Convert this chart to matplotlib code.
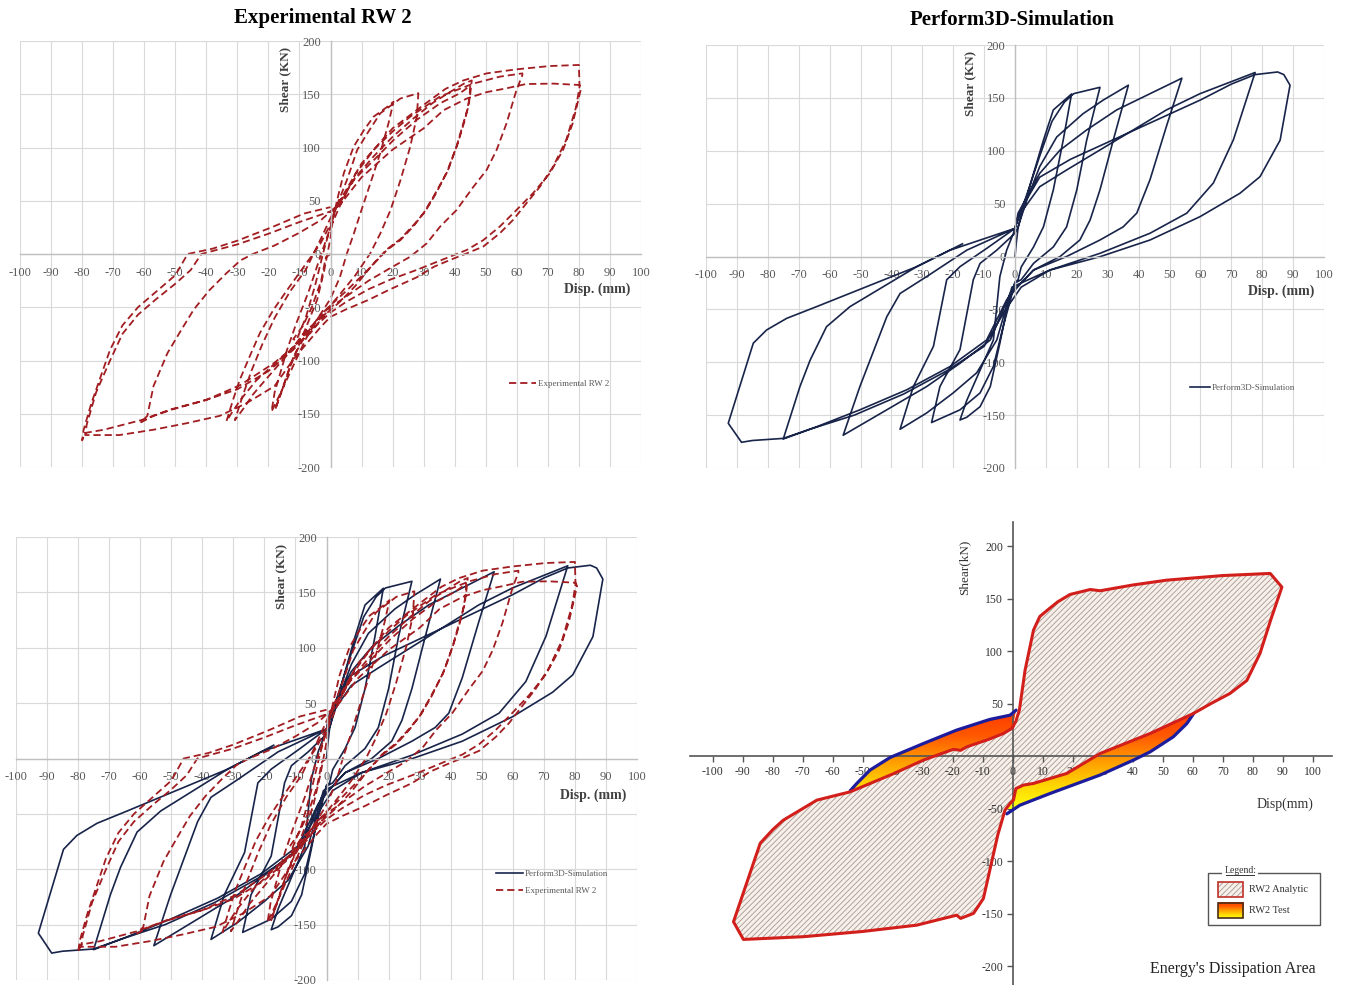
import numpy as np
import matplotlib
matplotlib.use('Agg')
import matplotlib.pyplot as plt
from matplotlib.patches import Polygon, Rectangle
from matplotlib.colors import LinearSegmentedColormap

# ---------------- data (disp mm, shear kN) ----------------
# Experimental RW 2, one list of (disp, shear) per cycle
exp_cycle1 = [(0, 0), (-1.5, -3), (-3, -25), (-6, -50), (-9, -68), (-12, -80), (-11, -81), (-8, -60),
              (-5, -30), (-2, 5), (0.5, 30), (2.5, 55), (4.3, 76), (7.5, 101), (10.7, 116), (13.9, 129),
              (18.2, 138), (20.3, 143), (18.7, 123), (16, 94.5), (12.8, 66), (9.6, 38), (7.5, 19),
              (5.3, 0.6), (3, -22), (0, -42), (-4, -60), (-8, -76), (-12, -97), (-15, -122),
              (-17.8, -146), (-15.1, -124), (-13, -106), (-10.8, -90), (-8.6, -74), (-6.5, -59),
              (-4.3, -43), (-2, -15), (0, 15), (1, 38)]
exp_cycle2 = [(1, 38), (5.3, 69.5), (8.6, 97.7), (11.8, 113), (16, 132), (22.5, 146), (28.3, 151),
              (27.8, 129), (25.7, 101), (22.5, 69), (19.3, 41), (16, 19), (12.8, 0.6), (8, -20),
              (3, -38), (-2, -55), (-6, -68), (-12, -88), (-18, -103), (-24, -119), (-29, -137),
              (-32, -150), (-33.5, -157), (-31.4, -137), (-29.2, -118), (-26, -96), (-22.7, -74),
              (-18.4, -52.5), (-14, -34), (-8.6, -12), (-3.2, 10), (0, 28), (2, 45)]
exp_cycle3 = [(2, 45), (7.5, 69.5), (13.9, 88), (20.3, 107), (27.8, 126), (35.3, 141.5), (41.7, 151),
              (45, 158), (44.6, 140), (42.8, 123), (40.6, 101), (37.4, 76), (33.2, 54), (29.9, 38),
              (26.7, 26), (22.5, 13), (18.2, 3.8), (13, -12), (8, -30), (3, -45), (-3, -60), (-8, -72),
              (-14, -95), (-20, -115), (-25, -132), (-28, -145), (-30.8, -156), (-28.5, -135),
              (-25.5, -110), (-22, -85), (-18, -60), (-13, -35), (-8, -15), (-3, 15), (1, 40), (3, 48)]
exp_cycle4 = [(3, 48), (8, 72), (14, 92), (20, 110), (27, 128), (33, 142), (39, 153), (43, 160),
              (45.5, 163), (45, 150), (43.5, 128), (41, 104), (38, 80), (34, 57), (30.5, 40), (27, 28),
              (22.5, 14), (18, 4), (12, -15), (5, -35), (0, -48), (-4, -60), (-8, -80), (-12, -105),
              (-16, -130), (-19, -148), (-18, -130), (-16, -110), (-14, -90), (-11, -65), (-7, -35),
              (-3, 0), (0, 25), (3, 45)]
exp_cycle5 = [(3, 45), (8, 75), (14, 98), (20, 115), (25.7, 129), (35.3, 148), (46, 160), (54.5, 166.5),
              (61.8, 169.6), (61.8, 168), (59.9, 154), (56.7, 122.7), (53.5, 97.7), (50.3, 79), (46, 63),
              (40.6, 41.3), (35.3, 25.7), (31, 10), (25.7, -2.5), (20, -12), (12.3, -25), (5, -40),
              (0, -50), (-6.4, -74), (-11.8, -87), (-18, -102), (-29, -123), (-40, -137), (-51, -146),
              (-57, -152), (-61, -158), (-59, -152), (-57, -124), (-52.5, -93), (-48, -71), (-44, -52),
              (-39, -34), (-33.5, -18), (-29, -6), (-25, 0), (-18, 8), (-10, 20), (-3, 32), (2, 45)]
exp_cycle6 = [(2, 45), (10, 85), (20, 118), (30, 140), (37, 155), (42.8, 163), (50.3, 169.6),
              (59.9, 173.4), (70.6, 176.5), (80, 177.5), (80.2, 157), (79.1, 138), (75.9, 107),
              (71.7, 82), (67.4, 63), (63.1, 47.6), (58.8, 32), (54.5, 19.4), (49.2, 7), (43.9, 0.6),
              (38.5, -5.6), (33.3, -12), (27.7, -22), (19.3, -33), (12.3, -43), (5, -52), (0, -59),
              (-3, -68), (-12, -99), (-18, -124), (-27, -140), (-35.7, -152), (-46.5, -159),
              (-57, -165), (-68, -170), (-79, -170), (-78.5, -160), (-75.5, -130), (-71, -100),
              (-67, -75), (-62, -57), (-56, -42), (-50, -28), (-45, -15), (-41.6, 0), (-30, 9),
              (-20, 19), (-10, 30), (0, 40), (3, 46)]
exp_cycle7 = [(3, 46), (10, 72), (20, 98), (30, 118), (36.4, 135), (43.9, 146), (50.3, 152),
              (56.7, 155.6), (63, 159.6), (71.7, 160), (80.2, 158.7), (80.7, 155.6), (78, 122.7),
              (74.9, 97.7), (70.6, 75.7), (65.2, 57), (59.9, 41.3), (54.5, 25.7), (49.2, 13),
              (43.9, 3.8), (38.5, -2.5), (27.7, -15), (19.3, -24), (12.3, -33), (5, -45), (0, -55),
              (-5, -68), (-12, -90), (-20, -110), (-30, -127), (-40, -137), (-51.5, -146), (-61, -156),
              (-73, -165), (-79, -168), (-80, -175), (-79.5, -165), (-77, -140), (-74, -115),
              (-71, -90), (-67, -67), (-62, -50), (-56, -35), (-50, -20), (-46, 0), (-38, 5),
              (-30, 12.5), (-19, 25), (-8.5, 38), (0, 44)]

# Perform3D-Simulation, one list per cycle
sim_cycle1 = [(0, 0), (0.5, 15), (1, 27), (1.6, 34.5), (6, 78.6), (9.2, 110), (12.4, 138.6),
              (18.3, 153.7), (15.6, 110), (12.4, 63), (9.2, 28), (6, 9), (2, -10), (1, -22), (0, -24),
              (-2.7, -50.6), (-4.9, -82), (-8, -123), (-11.3, -142), (-15.6, -152), (-17.8, -154.6),
              (-15.6, -136), (-7, -79), (-4.9, -19), (-2.7, 6), (-0.5, 22), (0, 27)]
sim_cycle2 = [(0, 27), (4, 60), (8, 95), (12, 128), (16, 146), (19, 154), (27.5, 160), (23.2, 110),
              (20, 63), (16.7, 28), (12.4, 9), (6, -6.5), (2, -22), (0, -25), (-3.8, -66), (-7, -104),
              (-11.3, -129), (-17.8, -145), (-27, -157), (-24.3, -123), (-17.8, -88), (-13.5, -22),
              (-11.3, -6.5), (-5.9, 6), (0, 22), (1, 28)]
sim_cycle3 = [(1, 28), (4, 55), (8, 85), (13.5, 113), (22, 135), (28.6, 148), (36.7, 162),
              (31.8, 110), (27.5, 63), (24.3, 34.5), (21, 15.6), (14.6, 0), (6, -12.8), (2, -25),
              (-1, -29), (-5.9, -79), (-12.4, -110), (-20, -129), (-28.6, -148), (-37.2, -163.4),
              (-32.9, -123), (-26.4, -85), (-23.2, -38), (-22.1, -22), (-17.8, -9.6), (-9, 8), (0, 26.6)]
sim_cycle4 = [(0, 26.6), (1, 41), (8, 78.6), (14.6, 100.7), (23.2, 119.7), (32.9, 138.6), (43.7, 154),
              (54, 168.6), (49, 123), (43.7, 72.7), (39.4, 41), (35, 28), (27.5, 15.6), (16.7, 0),
              (6, -12.8), (2, -25), (-1.6, -35), (-8, -79), (-17.8, -101), (-28.6, -123), (-41.5, -145),
              (-55.6, -169), (-50.2, -123), (-44.8, -82), (-41.5, -57), (-37.2, -35), (-28.6, -19),
              (-15.6, 6), (0, 26.6)]
sim_cycle5 = [(0, 26.6), (1, 37.7), (8, 66), (16.7, 81.8), (27.5, 100.7), (38.3, 119.7), (49, 138.6),
              (59.9, 154), (77.7, 174), (70.7, 110.5), (64.2, 69.5), (55.6, 41), (43.7, 22), (27.5, 3),
              (11.3, -12.8), (2, -25), (-2.7, -41), (-9.2, -79), (-21, -104), (-35, -126), (-50.2, -145),
              (-64.2, -161), (-75, -172.6), (-69.6, -123), (-66.3, -98), (-61, -66.4), (-53.4, -47.4),
              (-42.6, -28.5), (-31.8, -9.6), (-21, 6), (0, 26.6)]
sim_cycle6 = [(0, 26.6), (2, 45), (8, 75), (18, 92), (30, 108), (45, 128), (60, 148), (70, 163),
              (77.7, 172), (85, 174.5), (87, 172), (89, 162), (85.8, 110), (79.3, 75.5), (72.8, 59.8),
              (59.9, 37.7), (43.7, 15.6), (27.5, -0.2), (11.3, -12.8), (2, -29), (-3, -50), (-10, -85),
              (-22, -108), (-36, -130), (-52, -150), (-66, -163), (-75, -172), (-85, -174),
              (-88.5, -175.7), (-92.8, -157.7), (-84.7, -82), (-80.4, -69.5), (-73.9, -58.5),
              (-64.2, -47.4), (-53.4, -34.8), (-42.6, -22.2), (-31.8, -9.6), (-17, 12)]

# Energy dissipation panel
analytic_outline = [(0, 28), (1, 33), (2.2, 44), (4.1, 82), (6.9, 120), (9, 133), (12.2, 140.6),
                    (15, 147), (19.1, 154), (25.8, 158.7), (29.1, 157.5), (40, 163), (51.3, 167.6),
                    (70, 172), (85.8, 174), (89.7, 161), (86, 130), (82.4, 97.8), (78, 72),
                    (72.4, 59.7), (66, 50), (60.2, 40.6), (45.8, 21.6), (29.1, 2.5), (18, -16.5),
                    (6.9, -26), (3.5, -27.6), (1, -31), (0.2, -42), (-0.9, -45), (-2.6, -51.4),
                    (-5, -75), (-9.8, -135.6), (-13.1, -149.8), (-17.4, -154.6), (-18.7, -151.5),
                    (-23.1, -154.6), (-32, -161), (-50, -167), (-69.8, -172), (-89.8, -174.6),
                    (-93.1, -157.8), (-84.2, -83), (-80, -70), (-76.5, -61), (-65.3, -41.9),
                    (-54.2, -34), (-40, -17), (-29.8, -3.8), (-19.8, 6.5), (-17.4, 5.5),
                    (-15.3, 8.9), (-8, 16), (-3.1, 21.6), (-0.5, 26)]
test_upper_blue = [(-54.2, -33), (-52, -26), (-47.6, -13.3), (-40.9, -1.3), (-29.8, 12),
                   (-18.7, 24.8), (-7.6, 35), (-0.9, 39), (1.1, 43.8)]
test_upper_red = [(0.5, 35), (0, 28), (-0.5, 26), (-3.1, 21.6), (-8, 16), (-15.3, 8.9), (-17.4, 5.5),
                  (-19.8, 6.5), (-29.8, -3.8), (-40, -17), (-54.2, -34)]
test_lower_blue = [(-2, -55), (2.4, -46.7), (12.4, -35.6), (29.1, -18), (40.2, -3.8), (45.8, 4.1),
                   (53.5, 18.4), (58, 31), (60.3, 40.6)]
test_lower_red = [(45.8, 21.6), (29.1, 2.5), (18, -16.5), (6.9, -26), (3.5, -27.6), (1, -31),
                  (0.2, -42), (-0.9, -45), (-2, -52)]

x_ticks = list(range(-100, 101, 10))
y_ticks = list(range(-200, 201, 50))
energy_y_ticks = [-200, -150, -100, -50, 50, 100, 150, 200]

# ---------------- styling ----------------
plt.rcParams['font.family'] = ['Liberation Serif', 'DejaVu Serif']
plt.rcParams['axes.unicode_minus'] = False
plt.rcParams['hatch.linewidth'] = 0.6

W, H = 1349, 985
fig = plt.figure(figsize=(W / 100, H / 100), dpi=100)

RED = '#a11d21'
NAVY = '#18244a'
GRAY_TXT = '#595959'


def px_rect(x0, y0, x1, y1):
    return [x0 / W, 1 - y1 / H, (x1 - x0) / W, (y1 - y0) / H]


def xy(cycles):
    pts = [p for c in cycles for p in c]
    return [p[0] for p in pts], [p[1] for p in pts]


def excel_axes(rect):
    ax = fig.add_axes(rect)
    ax.set_xlim(-100, 100)
    ax.set_ylim(-200, 200)
    ax.set_xticks(x_ticks)
    ax.set_yticks(y_ticks)
    ax.grid(True, color='#d9d9d9', linewidth=0.8)
    ax.set_axisbelow(True)
    for s in ['top', 'right']:
        ax.spines[s].set_visible(False)
    for s in ['left', 'bottom']:
        ax.spines[s].set_position(('data', 0))
        ax.spines[s].set_color('#bfbfbf')
        ax.spines[s].set_linewidth(1.0)
    ax.tick_params(length=0, labelsize=9, colors=GRAY_TXT)
    ax.tick_params(axis='x', pad=9)
    ax.tick_params(axis='y', pad=7)
    ax.text(-14.6, 164, 'Shear (KN)', rotation=90, ha='center', va='center',
            fontsize=9.5, fontweight='bold', color='#404040')
    ax.text(86, -33, 'Disp. (mm)', ha='center', va='center',
            fontsize=10, fontweight='bold', color='#404040')
    return ax


exp_x, exp_y = xy([exp_cycle1, exp_cycle2, exp_cycle3, exp_cycle4, exp_cycle5, exp_cycle6, exp_cycle7])
sim_x, sim_y = xy([sim_cycle1, sim_cycle2, sim_cycle3, sim_cycle4, sim_cycle5, sim_cycle6])

dash = (0, (4, 2.2))

# top-left: experimental
ax1 = excel_axes(px_rect(20, 41, 641, 467))
ax1.plot(exp_x, exp_y, color=RED, lw=1.3, linestyle=dash, label='Experimental RW 2')
ax1.legend(loc='center left', bbox_to_anchor=(0.775, 0.195), frameon=False, fontsize=6.5,
           handlelength=3, handletextpad=0.2, labelcolor=GRAY_TXT)
fig.text(323 / W, 1 - 18 / H, 'Experimental RW 2', ha='center', va='center',
         fontsize=15, fontweight='bold')

# top-right: simulation
ax2 = excel_axes(px_rect(706, 45, 1324, 468))
ax2.plot(sim_x, sim_y, color=NAVY, lw=1.2, label='Perform3D-Simulation')
ax2.legend(loc='center left', bbox_to_anchor=(0.77, 0.19), frameon=False, fontsize=6.5,
           handlelength=2.2, handletextpad=0.2, labelcolor=GRAY_TXT)
fig.text(1012 / W, 1 - 20 / H, 'Perform3D-Simulation', ha='center', va='center',
         fontsize=15, fontweight='bold')

# bottom-left: both
ax3 = excel_axes(px_rect(16, 537, 637, 980))
ax3.plot(sim_x, sim_y, color=NAVY, lw=1.2, label='Perform3D-Simulation')
ax3.plot(exp_x, exp_y, color=RED, lw=1.3, linestyle=dash, label='Experimental RW 2')
ax3.legend(loc='center left', bbox_to_anchor=(0.76, 0.22), frameon=False, fontsize=6.5,
           handlelength=3, handletextpad=0.2, labelcolor=GRAY_TXT, labelspacing=0.9)

# bottom-right: energy dissipation area
ax4 = fig.add_axes(px_rect(690, 522, 1332, 985))
xl, yl = (-107.6, 106.4), (-218, 223)
for s in ['top', 'right']:
    ax4.spines[s].set_visible(False)
for s in ['left', 'bottom']:
    ax4.spines[s].set_position(('data', 0))
    ax4.spines[s].set_color('#555555')
    ax4.spines[s].set_linewidth(1.2)
ax4.set_xticks(x_ticks)
ax4.set_yticks(energy_y_ticks)
ax4.tick_params(direction='out', length=4, width=1, color='#555555', labelsize=8.5,
                labelcolor='#333333', pad=3)
ax4.set_facecolor('none')

HATCH_BG = '#f7f0ea'
HATCH_FG = '#a69890'
ax4.add_patch(Polygon(analytic_outline, closed=True, facecolor=HATCH_BG, edgecolor=HATCH_FG,
                      hatch='//////', lw=0, zorder=1))

grad_cmap = LinearSegmentedColormap.from_list(
    'energy', ['#ffff10', '#ffd400', '#ff9a00', '#ff5a00', '#ff3a00'])
grad = np.linspace(0, 1, 256).reshape(-1, 1)
for blue, red in [(test_upper_blue, test_upper_red), (test_lower_blue, test_lower_red)]:
    poly = Polygon(blue + red, closed=True, facecolor='none', edgecolor='none')
    ax4.add_patch(poly)
    im = ax4.imshow(grad, extent=[-60, 65, -50, 42], origin='lower', cmap=grad_cmap,
                    aspect='auto', zorder=2, interpolation='bilinear')
    im.set_clip_path(poly)
    bx = [p[0] for p in blue]
    by = [p[1] for p in blue]
    ax4.plot(bx, by, color='#1c1c9c', lw=2.3, zorder=3, solid_capstyle='round')

ox = [p[0] for p in analytic_outline] + [analytic_outline[0][0]]
oy = [p[1] for p in analytic_outline] + [analytic_outline[0][1]]
ax4.plot(ox, oy, color='#d21f1b', lw=2.2, zorder=4, solid_joinstyle='round')

ax4.set_xlim(*xl)
ax4.set_ylim(*yl)

ax4.text(-16.2, 180, 'Shear(kN)', rotation=90, ha='center', va='center', fontsize=9.5,
         color='#333333')
ax4.text(90.8, -45.7, 'Disp(mm)', ha='center', va='center', fontsize=10, color='#333333')
ax4.text(73.4, -203, "Energy's Dissipation Area", ha='center', va='center', fontsize=11.5,
         color='#222222')

# custom legend box
ax4.add_patch(Rectangle((65.1, -161), 37.3, 49.6, facecolor='white', edgecolor='#555555',
                        lw=1, zorder=5))
ax4.text(75.8, -108.5, 'Legend:', ha='center', va='center', fontsize=7, color='#333333',
         zorder=6, bbox=dict(facecolor='white', edgecolor='none', pad=1.5))
ax4.plot([71.2, 80.5], [-112.8, -112.8], color='#333333', lw=0.7, zorder=7)
ax4.add_patch(Rectangle((68.4, -134.3), 8.4, 14.3, facecolor=HATCH_BG, edgecolor=HATCH_FG,
                        hatch='//////', lw=0, zorder=6))
ax4.add_patch(Rectangle((68.4, -134.3), 8.4, 14.3, facecolor='none', edgecolor='#c0302a',
                        lw=1.2, zorder=7))
leg_im = ax4.imshow(grad, extent=[68.4, 76.8, -154.3, -140], origin='lower', cmap=grad_cmap,
                    aspect='auto', zorder=6)
ax4.add_patch(Rectangle((68.4, -154.3), 8.4, 14.3, facecolor='none', edgecolor='#4a2e1a',
                        lw=1.2, zorder=7))
ax4.text(78.6, -127.2, 'RW2 Analytic', ha='left', va='center', fontsize=7.5, color='#333333',
         zorder=7)
ax4.text(78.6, -147.5, 'RW2 Test', ha='left', va='center', fontsize=7.5, color='#333333',
         zorder=7)
ax4.set_xlim(*xl)
ax4.set_ylim(*yl)

fig.savefig('out.png', dpi=100, facecolor='white')
